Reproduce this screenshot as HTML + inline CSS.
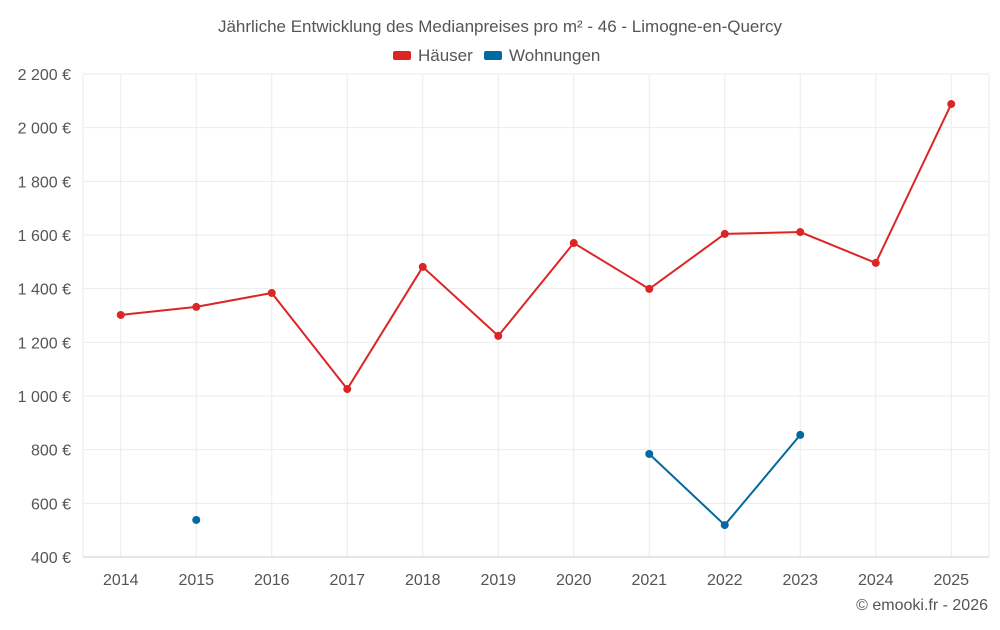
<!DOCTYPE html>
<html><head><meta charset="utf-8"><style>
body{margin:0;background:#fff;font-family:"Liberation Sans",sans-serif;}
svg text{font-family:"Liberation Sans",sans-serif;fill:#555;}
</style></head><body>
<svg id="chart" width="1000" height="625">
<text x="500" y="32" text-anchor="middle" font-size="17">Jährliche Entwicklung des Medianpreises pro m² - 46 - Limogne-en-Quercy</text>
<g>
<g><rect x="393" y="51" width="18" height="9" rx="2" fill="#dc2626"/><text x="418" y="61" font-size="17">Häuser</text></g>
<g><rect x="484" y="51" width="18" height="9" rx="2" fill="#0369a1"/><text x="509" y="61" font-size="17">Wohnungen</text></g>
</g>
<g id="grid"></g><g id="axes"></g><g id="series"></g>
<text x="988" y="610" text-anchor="end" font-size="16">© emooki.fr - 2026</text>
</svg>
<script>
const years=[2014,2015,2016,2017,2018,2019,2020,2021,2022,2023,2024,2025];
const houses=[1302,1332,1384,1026,1481,1224,1570,1399,1604,1611,1496,2088];
const flats=[null,538,null,null,null,null,null,784,519,855,null,null];
const yTicks=[400,600,800,1000,1200,1400,1600,1800,2000,2200];
const L=83,R=989,T=74,B=557,yMin=400,yMax=2200;
const NS="http://www.w3.org/2000/svg";
const bw=(R-L)/years.length;
function xs(i){return L+bw*(i+0.5);}
function ys(v){return B-(v-yMin)/(yMax-yMin)*(B-T);}
function mk(p,t,a){const e=document.createElementNS(NS,t);for(const k in a)e.setAttribute(k,a[k]);p.appendChild(e);return e;}
const g=document.getElementById('grid'),ax=document.getElementById('axes'),s=document.getElementById('series');
yTicks.forEach(v=>{
 const l=mk(g,'line',{x1:L,x2:R,y1:ys(v),y2:ys(v),stroke:'#ebebeb'});
 
 
 const t=mk(ax,'text',{x:71,y:ys(v)+6,'text-anchor':'end','font-size':16});
 t.textContent=v.toLocaleString('fr-FR').replace(/\u202f|\u00a0/g,' ')+' €';
 
 
});
[L,R].forEach(x=>{
 const l=mk(g,'line',{x1:x,x2:x,y1:T,y2:B,stroke:'#ebebeb'});
 
 
});
years.forEach((y,i)=>{
 const l=mk(g,'line',{x1:xs(i),x2:xs(i),y1:T,y2:B,stroke:'#ebebeb'});
 
 
 const t=mk(ax,'text',{x:xs(i),y:585,'text-anchor':'middle','font-size':16});
 t.textContent=y;
 
 
});
const base=mk(ax,'line',{x1:L,x2:R,y1:B,y2:B,stroke:'#ccc'});


function draw(vals,color,name){
 let d='',pen=false;
 vals.forEach((v,i)=>{if(v==null){pen=false;return;}d+=(pen?'L':'M')+xs(i)+' '+ys(v)+' ';pen=true;});
 const p=mk(s,'path',{d:d,fill:'none',stroke:color,'stroke-width':2});
 
 
 vals.forEach((v,i)=>{if(v==null)return;
  const c=mk(s,'circle',{cx:xs(i),cy:ys(v),r:4,fill:color});
  
  
 });
}
draw(houses,'#dc2626','hauser');
draw(flats,'#0369a1','wohnungen');
</script>
</body></html>
